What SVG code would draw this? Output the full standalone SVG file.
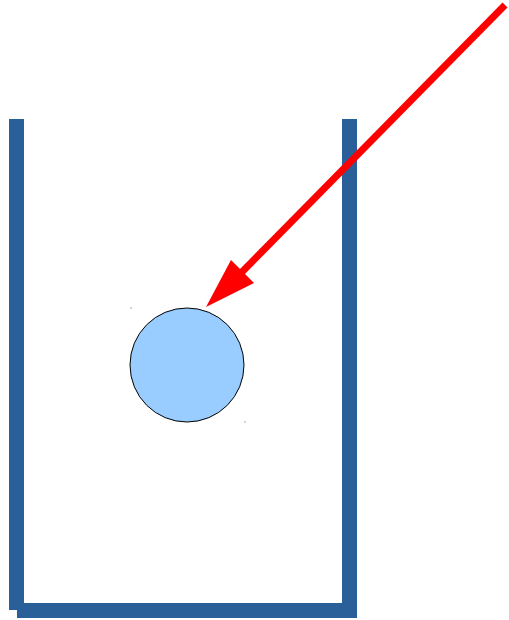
<svg xmlns="http://www.w3.org/2000/svg" width="509" height="620" viewBox="0 0 509 620">
<style>
.wall{fill:#2a6099;}
.ball{fill:#99ccff;stroke:#000;stroke-width:1;}
.arrow{stroke:#ff0000;stroke-width:7;fill:none;}
.dot{fill:#555;}
</style>
<g id="container">
<rect class="wall" x="9" y="119" width="15" height="491"/>
<rect class="wall" x="342" y="119" width="15" height="498"/>
<rect class="wall" x="17" y="603" width="340" height="15"/>
</g>
<g id="ball">
<circle class="ball" cx="187" cy="365" r="57"/>
<rect class="dot" x="130.5" y="307.5" width="1" height="1"/>
<rect class="dot" x="244.5" y="421.5" width="1" height="1"/>
</g>
<g id="connectors">
<line class="arrow" x1="505" y1="5" x2="240" y2="274"/>
<polygon points="206,307 231,260 254,283" fill="#ff0000"/>
</g>
</svg>
